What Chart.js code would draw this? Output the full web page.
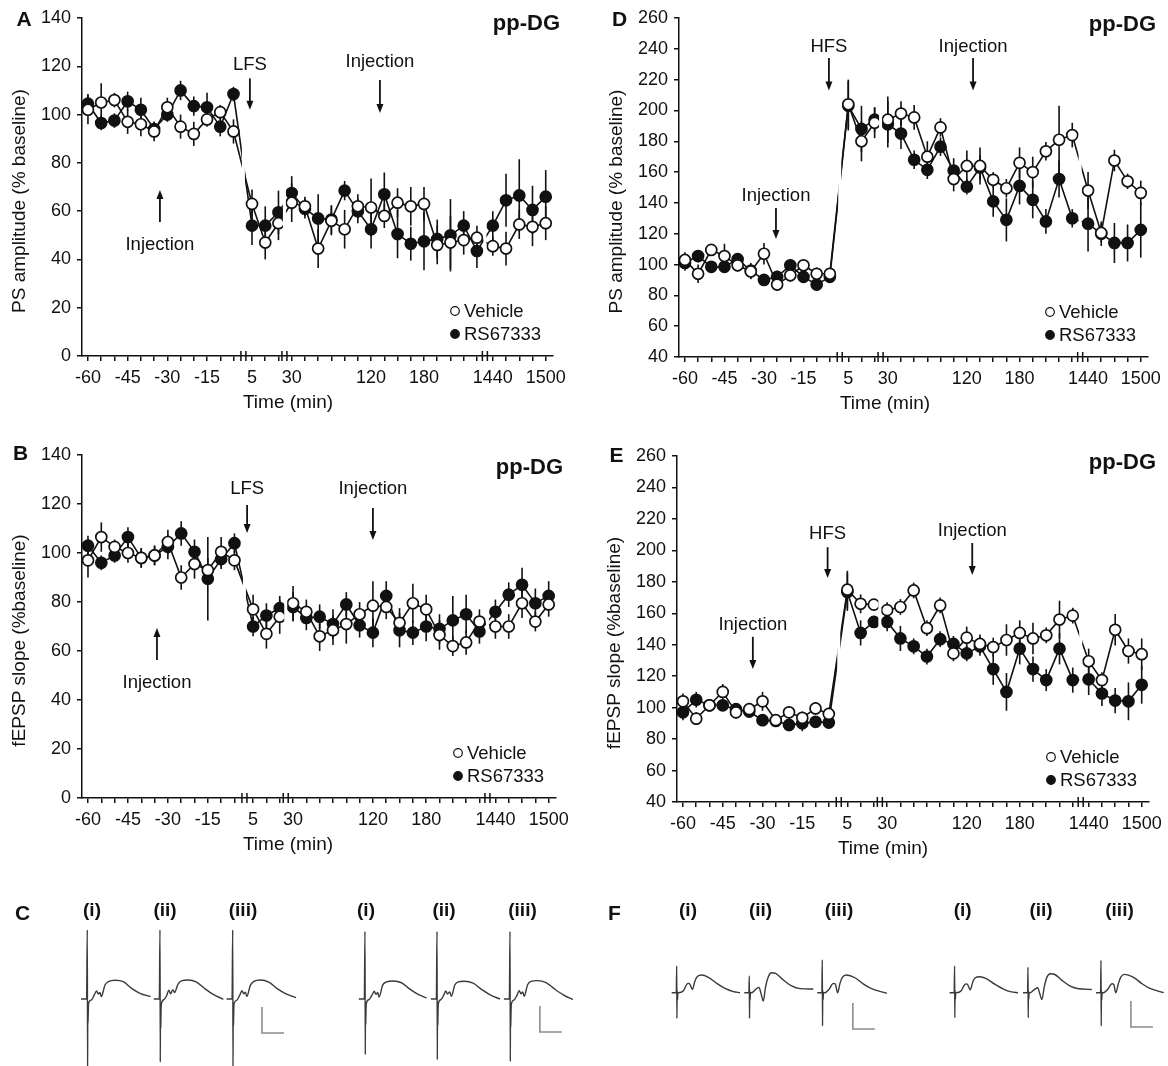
<!DOCTYPE html>
<html>
<head>
<meta charset="utf-8">
<title>pp-DG LTD / LTP with RS67333</title>
<script src="https://cdn.jsdelivr.net/npm/chart.js@4.4.1/dist/chart.umd.min.js"></script>
<style>
  body { margin: 0; background: #fff; }
  #fig { position: relative; width: 1168px; height: 1066px; overflow: hidden; background: #fff; }
  #fig canvas { position: absolute; }
</style>
</head>
<body>
<div id="fig">
  <canvas id="panelA" width="584" height="430" style="left:0;top:0"></canvas>
  <canvas id="panelB" width="584" height="430" style="left:0;top:437px"></canvas>
  <canvas id="panelD" width="584" height="430" style="left:584px;top:0"></canvas>
  <canvas id="panelE" width="584" height="430" style="left:584px;top:437px"></canvas>
  <canvas id="panelC" width="584" height="196" style="left:0;top:870px"></canvas>
  <canvas id="panelF" width="584" height="196" style="left:584px;top:870px"></canvas>
</div>
<script>
// recording times (min): baseline, after stimulation, 30-240 min, next day
const times = [-60, -55, -50, -45, -40, -35, -30, -25, -20, -15, -10, -5,
  5, 10, 15,
  30, 45, 60, 75, 90, 105, 120, 135, 150, 165, 180, 195, 210, 225, 240,
  1440, 1455, 1470, 1485, 1500];
const labeledTimes = [-60, -45, -30, -15, 5, 30, 120, 180, 1440, 1500];

// A: PS amplitude after LFS
const psLfsVehicle = [102, 105, 106, 97, 96, 93, 103, 95, 92, 98, 101, 93,
  63, 47, 55,
  63.5, 62, 44.5, 56, 52.5, 62, 61.5, 58, 63.5, 62, 63, 46, 47, 48, 49,
  45.5, 44.5, 54.5, 53.5, 55];
const psLfsVehicleErr = [6, 8, 3, 5, 5, 4, 4, 5, 5, 3, 3, 5,
  6, 7, 7,
  8, 4, 8, 6, 8, 5, 12, 5, 6, 8, 7, 8, 11, 6, 5,
  4, 7, 6, 8, 7];
const psLfsRs = [104.5, 96.5, 97.5, 105.5, 102, 94, 100, 110, 103.5, 103, 95, 108.5,
  54, 54, 59.5,
  67.5, 61, 57, 56.5, 68.5, 60, 52.5, 67, 50.5, 46.5, 47.5, 48.5, 50, 54, 43.5,
  54, 64.5, 66.5, 60.5, 66];
const psLfsRsErr = [4, 3, 3, 4, 5, 3, 3, 4, 4, 6, 4, 3,
  8, 8, 9,
  7, 4, 10, 6, 4, 5, 8, 9, 10, 7, 12, 8, 15, 6, 7,
  6, 11, 15, 10, 11];

// B: fEPSP slope after LFS
const slopeLfsVehicle = [97, 106.5, 102.5, 100, 98, 99, 104.5, 90, 95.5, 93, 100.5, 97,
  77, 67, 74,
  79.5, 76, 66, 68.5, 71, 75, 78.5, 78, 71.5, 79.5, 77, 66.5, 62, 63.5, 72,
  70, 70, 79.5, 72, 79];
const slopeLfsVehicleErr = [7, 6, 3, 4, 4, 4, 5, 5, 6, 5, 6, 4,
  6, 6, 7,
  7, 5, 6, 6, 8, 5, 10, 5, 6, 8, 6, 6, 4, 5, 5,
  5, 5, 6, 4, 5];
const slopeLfsRs = [103, 96, 99, 106.5, 98, 99, 102.5, 108, 100.5, 89.5, 97.5, 104,
  70, 74.5, 77.5,
  78, 73.5, 74, 71, 79, 70.5, 67.5, 82.5, 68.5, 67.5, 70, 69, 72.5, 75, 68,
  76, 83, 87, 79.5, 82.5];
const slopeLfsRsErr = [4, 3, 3, 4, 4, 4, 5, 5, 5, 17, 4, 4,
  4, 5, 5,
  6, 5, 5, 6, 5, 5, 6, 6, 7, 5, 6, 6, 10, 8, 5,
  5, 5, 7, 6, 6];

// D: PS amplitude after HFS
const psHfsVehicle = [103, 94, 109.5, 105.5, 99.5, 95.5, 107, 87, 93, 99.5, 94, 94,
  204, 180, 192,
  194, 198, 195.5, 170, 189, 155.5, 164, 164, 155, 149.5, 166, 160, 173.5, 181, 184,
  148, 120.5, 167.5, 154, 146.5];
const psHfsVehicleErr = [5, 6, 3, 8, 4, 5, 7, 4, 4, 4, 4, 3,
  16, 13, 10,
  15, 8, 8, 10, 6, 8, 10, 12, 5, 6, 10, 10, 6, 22, 8,
  12, 6, 7, 5, 8];
const psHfsRs = [101, 105.5, 98.5, 98.5, 103.5, 96, 90, 92, 99.5, 92, 87, 92,
  203, 188, 194,
  191, 185, 168, 161.5, 176.5, 161, 150.5, 163, 141, 129, 151, 142, 128, 155.5, 130,
  126.5, 120, 114, 114, 122.5];
const psHfsRsErr = [5, 4, 3, 3, 4, 5, 3, 4, 4, 4, 4, 3,
  16, 15, 8,
  15, 10, 6, 6, 6, 8, 5, 8, 10, 14, 12, 12, 8, 12, 6,
  18, 8, 13, 12, 18];

// E: fEPSP slope after HFS
const slopeHfsVehicle = [104, 93, 101.5, 110, 97, 99, 104, 92, 97, 93.5, 99.5, 96,
  175, 166, 165.5,
  162, 164, 174.5, 150.5, 165, 134.5, 144.5, 140.5, 138.5, 143, 147.5, 144, 146, 156, 158.5,
  129.5, 117.5, 149.5, 136, 134];
const slopeHfsVehicleErr = [5, 4, 3, 5, 4, 4, 6, 3, 4, 4, 4, 4,
  12, 6, 3,
  5, 5, 5, 5, 5, 5, 7, 6, 6, 10, 8, 10, 5, 12, 5,
  8, 5, 10, 8, 10];
const slopeHfsRs = [97, 105, 101.5, 101.5, 99, 97.5, 92, 91.5, 89, 90, 91, 90.5,
  173.5, 147.5, 154.5,
  154.5, 144, 139, 132.5, 143.5, 140.5, 134.5, 139, 124.5, 110, 137.5, 124.5, 117.5, 137.5, 117.5,
  118, 109, 104.5, 104, 114.5];
const slopeHfsRsErr = [5, 5, 3, 3, 4, 4, 3, 3, 4, 5, 3, 4,
  12, 8, 3,
  6, 8, 5, 5, 5, 5, 5, 6, 10, 12, 10, 8, 7, 10, 8,
  10, 8, 8, 12, 12];

// sample field potentials [ms, mV], stimulus at 0 ms
const traceC1 = [[-1.43, 0], [-0.16, 0], [0, 5.31], [0.07, -5.6], [0.1, -1.2], [0.13, -1.9], [0.16, -1.75], [0.3, -0.31], [0.91, -0.08], [1.59, 0.31], [2.11, 0.62], [2.5, 0.38], [2.89, 0.5], [3.18, 0.18], [4.02, 1.08], [4.77, 1.33], [6.3, 1.44], [8.18, 1.33], [10.07, 0.82], [11.98, 0.44], [14.39, 0.18]];
const traceC2 = [[-1.4, 0], [-0.15, 0], [0, 5.31], [0.07, -4.85], [0.1, -1.4], [0.13, -2.3], [0.16, -2.2], [0.3, -0.4], [0.9, -0.05], [1.5, 0.25], [2.0, 0.68], [2.4, 0.4], [2.9, 0.72], [3.3, 0.5], [4.1, 1.15], [4.9, 1.4], [6.4, 1.46], [8.3, 1.3], [10.2, 0.8], [12.1, 0.35], [14.4, -0.02]];
const traceC3 = [[-1.4, 0], [-0.15, 0], [0, 5.31], [0.07, -5.6], [0.1, -1.3], [0.13, -2.1], [0.16, -2.0], [0.3, -0.35], [0.9, -0.1], [1.6, 0.3], [2.1, 0.64], [2.5, 0.4], [2.9, 0.52], [3.2, 0.2], [4.0, 1.05], [4.8, 1.35], [6.3, 1.46], [8.2, 1.3], [10.1, 0.8], [12.0, 0.42], [14.4, 0.1]];
const traceC4 = [[-1.4, 0], [-0.15, 0], [0, 5.2], [0.07, -4.28], [0.1, -1.2], [0.13, -2.0], [0.16, -1.9], [0.3, -0.35], [0.9, -0.05], [1.6, 0.3], [2.1, 0.6], [2.5, 0.36], [2.9, 0.5], [3.2, 0.15], [4.0, 1.05], [4.8, 1.3], [6.4, 1.38], [8.3, 1.25], [10.2, 0.76], [12.1, 0.35], [14.0, 0.08]];
const traceC5 = [[-1.4, 0], [-0.15, 0], [0, 5.2], [0.07, -4.67], [0.1, -1.3], [0.13, -2.1], [0.16, -2.0], [0.3, -0.35], [0.9, -0.05], [1.5, 0.28], [2.0, 0.62], [2.4, 0.38], [2.9, 0.55], [3.25, 0.2], [4.05, 1.08], [4.8, 1.32], [6.2, 1.36], [8.2, 1.22], [10.2, 0.72], [12.2, 0.3], [14.3, 0]];
const traceC6 = [[-1.4, 0], [-0.15, 0], [0, 5.2], [0.07, -4.8], [0.1, -1.4], [0.13, -2.2], [0.16, -2.1], [0.3, -0.4], [0.9, -0.08], [1.6, 0.3], [2.1, 0.64], [2.5, 0.4], [2.9, 0.55], [3.2, 0.2], [4.0, 1.1], [4.8, 1.36], [6.2, 1.41], [8.2, 1.26], [10.2, 0.75], [12.2, 0.3], [14.3, -0.05]];
const traceF1 = [[-1.14, 0], [-0.1, 0], [0, 2.05], [0.05, -1.98], [0.1, 0.2], [0.18, -0.56], [0.25, 0], [0.39, 0], [1.52, 0.15], [2.27, 0.64], [2.66, 0.72], [3.02, 0.64], [3.57, 0.25], [4.16, 0.92], [4.7, 1.25], [5.68, 1.36], [7.2, 1.18], [9.09, 0.72], [10.98, 0.33], [12.89, 0.08], [14.39, 0]];
const traceF2 = [[-1.14, 0], [-0.1, 0], [0, 1.28], [0.05, -1.98], [0.1, 0.2], [0.18, -0.56], [0.25, 0], [0.52, 0], [1.52, 0.28], [2.2, 0.41], [2.66, -0.05], [3.18, -0.64], [3.7, 0.46], [4.32, 1.23], [5.07, 1.54], [5.98, 1.48], [7.73, 0.98], [9.61, 0.52], [11.52, 0.31], [14.55, 0.28]];
const traceF3 = [[-1.14, 0], [-0.1, 0], [0, 2.52], [0.05, -2.56], [0.1, 0.2], [0.18, -0.56], [0.25, 0], [0.61, 0], [1.52, 0.25], [2.5, 0.72], [2.95, 0.67], [3.48, 0], [4.02, 0.72], [4.55, 1.18], [5.52, 1.36], [7.43, 1.15], [9.2, 0.7], [11.05, 0.34], [14.7, -0.05]];
const traceF4 = [[-1.14, 0], [-0.1, 0], [0, 2.05], [0.05, -1.92], [0.1, 0.2], [0.18, -0.5], [0.25, 0], [0.4, 0], [1.5, 0.15], [2.25, 0.6], [2.65, 0.68], [3.0, 0.6], [3.55, 0.22], [4.15, 0.85], [4.7, 1.15], [5.7, 1.23], [7.2, 1.08], [9.1, 0.66], [11.0, 0.3], [12.9, 0.06], [14.4, 0]];
const traceF5 = [[-1.14, 0], [-0.1, 0], [0, 1.97], [0.05, -1.92], [0.1, 0.2], [0.18, -0.5], [0.25, 0], [0.5, 0], [1.5, 0.26], [2.2, 0.38], [2.65, -0.05], [3.15, -0.52], [3.7, 0.45], [4.3, 1.2], [5.1, 1.46], [6.0, 1.42], [7.7, 0.95], [9.6, 0.5], [11.5, 0.3], [14.5, 0.25]];
const traceF6 = [[-1.14, 0], [-0.1, 0], [0, 2.49], [0.05, -2.56], [0.1, 0.2], [0.18, -0.56], [0.25, 0], [0.6, 0], [1.5, 0.25], [2.5, 0.69], [2.9, 0.64], [3.36, 0], [3.95, 0.7], [4.5, 1.2], [5.4, 1.41], [7.3, 1.2], [9.2, 0.72], [11.0, 0.35], [14.25, 0]];
const scaleBar = { mV: 2, ms: 5 };

const INK = '#111';
const FONT = "'Liberation Sans', Arial, Helvetica, sans-serif";
Chart.defaults.font.family = FONT;
Chart.defaults.font.size = 18;
Chart.defaults.color = INK;

// the time axis is broken into four stretches; each point gets one slot
const axisSegments = [
  { from: -60, step: 5, at: 0 },
  { from: 5, step: 5, at: 12.4 },
  { from: 30, step: 15, at: 15.4 },
  { from: 1440, step: 15, at: 30.6 },
];
const axisBreaks = [11.75, 14.85, 30.0];
const slotMin = -0.45, slotMax = 35.15;

function slotOf(t) {
  let seg = axisSegments[0];
  for (const s of axisSegments) if (t >= s.from) seg = s;
  return seg.at + (t - seg.from) / seg.step;
}

// SEM bars, drawn under the lines and markers
const errorBars = {
  id: 'errorBars',
  beforeDatasetsDraw(chart) {
    const ctx = chart.ctx, y = chart.scales.y;
    ctx.save();
    ctx.strokeStyle = INK;
    ctx.lineWidth = 1.6;
    chart.data.datasets.forEach((ds, i) => {
      if (!ds.errors) return;
      chart.getDatasetMeta(i).data.forEach((pt, j) => {
        const v = ds.data[j].y, e = ds.errors[j];
        ctx.beginPath();
        ctx.moveTo(pt.x, y.getPixelForValue(v + e));
        ctx.lineTo(pt.x, y.getPixelForValue(v - e));
        ctx.stroke();
      });
    });
    ctx.restore();
  }
};

// gaps in the lines and the // marks on the axis at each break
const axisBreakMarks = {
  id: 'axisBreakMarks',
  afterDatasetsDraw(chart) {
    const { ctx, chartArea: a, scales: { x } } = chart;
    ctx.save();
    ctx.fillStyle = '#fff';
    axisBreaks.forEach(b => {
      const px = x.getPixelForValue(b);
      ctx.fillRect(px - 1.5, a.top, 3, a.bottom - a.top - 1);
    });
    ctx.restore();
  },
  afterDraw(chart) {
    const { ctx, chartArea: a, scales: { x } } = chart;
    ctx.save();
    ctx.strokeStyle = INK;
    ctx.lineWidth = 1.5;
    axisBreaks.forEach(b => {
      const px = x.getPixelForValue(b);
      [-2.5, 2.5].forEach(d => {
        ctx.beginPath();
        ctx.moveTo(px + d, a.bottom - 5);
        ctx.lineTo(px + d, a.bottom + 5);
        ctx.stroke();
      });
    });
    ctx.restore();
  }
};

function arrow(ctx, x, y1, y2) {
  const dir = y2 > y1 ? 1 : -1;
  ctx.lineWidth = 1.8;
  ctx.beginPath();
  ctx.moveTo(x, y1);
  ctx.lineTo(x, y2 - dir * 6);
  ctx.stroke();
  ctx.beginPath();
  ctx.moveTo(x, y2);
  ctx.lineTo(x - 3.5, y2 - dir * 9);
  ctx.lineTo(x + 3.5, y2 - dir * 9);
  ctx.closePath();
  ctx.fill();
}

// panel letter, region tag, axis titles, stimulation/injection arrows, key
function decorFor(p) {
  return {
    id: 'decor',
    afterDraw(chart) {
      const { ctx, chartArea: a, scales: { x, y } } = chart;
      ctx.save();
      ctx.fillStyle = INK;
      ctx.strokeStyle = INK;
      ctx.textBaseline = 'middle';

      ctx.font = `bold 21px ${FONT}`;
      ctx.textAlign = 'center';
      ctx.fillText(p.letter, p.letterAt[0], p.letterAt[1]);

      ctx.font = `bold 22px ${FONT}`;
      ctx.textAlign = 'right';
      ctx.fillText('pp-DG', p.tagAt[0], p.tagAt[1]);

      ctx.font = `19px ${FONT}`;
      ctx.textAlign = 'center';
      ctx.save();
      ctx.translate(a.left - 62, (a.top + a.bottom) / 2 + 14);
      ctx.rotate(-Math.PI / 2);
      ctx.fillText(p.yTitle, 0, 0);
      ctx.restore();
      ctx.fillText('Time (min)', a.left + 206, a.bottom + 47);

      ctx.font = `18.5px ${FONT}`;
      p.marks.forEach(m => {
        const px = x.getPixelForValue(m.at);
        ctx.fillText(m.text, px, y.getPixelForValue(m.textY));
        arrow(ctx, px, y.getPixelForValue(m.from), y.getPixelForValue(m.to));
      });

      const kx = a.right - 98;
      const rows = [
        { label: 'Vehicle', fill: '#fff', dy: 45 },
        { label: 'RS67333', fill: INK, dy: 22 },
      ];
      ctx.textAlign = 'left';
      rows.forEach(r => {
        const ky = a.bottom - r.dy;
        ctx.beginPath();
        ctx.arc(kx, ky, 4.3, 0, Math.PI * 2);
        ctx.fillStyle = r.fill;
        ctx.fill();
        ctx.lineWidth = 1.2;
        ctx.stroke();
        ctx.fillStyle = INK;
        ctx.fillText(r.label, kx + 9, ky + 1);
      });
      ctx.restore();
    }
  };
}

const panels = [
  { id: 'panelA', letter: 'A', letterAt: [24, 20], tagAt: [560, 24],
    yTitle: 'PS amplitude (% baseline)', yMin: 0, yMax: 140,
    pad: { left: 0, top: 18, right: 31, bottom: 0 }, yWidth: 82, xHeight: 74,
    vehicle: psLfsVehicle, vehicleErr: psLfsVehicleErr, rs: psLfsRs, rsErr: psLfsRsErr,
    marks: [
      { text: 'LFS', at: 12.24, textY: 120.5, from: 115, to: 102 },
      { text: 'Injection', at: 22.07, textY: 121.8, from: 114.3, to: 100.7 },
      { text: 'Injection', at: 5.44, textY: 46, from: 55.5, to: 68.8 },
    ] },
  { id: 'panelB', letter: 'B', letterAt: [20.5, 17.5], tagAt: [563, 31],
    yTitle: 'fEPSP slope (%baseline)', yMin: 0, yMax: 140,
    pad: { left: 0, top: 18, right: 28, bottom: 0 }, yWidth: 82, xHeight: 69,
    vehicle: slopeLfsVehicle, vehicleErr: slopeLfsVehicleErr, rs: slopeLfsRs, rsErr: slopeLfsRsErr,
    marks: [
      { text: 'LFS', at: 11.95, textY: 126, from: 119.6, to: 108.2 },
      { text: 'Injection', at: 21.4, textY: 126, from: 118.4, to: 105.3 },
      { text: 'Injection', at: 5.18, textY: 47, from: 56.3, to: 69.4 },
    ] },
  { id: 'panelD', letter: 'D', letterAt: [35.5, 20], tagAt: [572, 25],
    yTitle: 'PS amplitude (% baseline)', yMin: 40, yMax: 260,
    pad: { left: 0, top: 18, right: 20, bottom: 0 }, yWidth: 95, xHeight: 73,
    vehicle: psHfsVehicle, vehicleErr: psHfsVehicleErr, rs: psHfsRs, rsErr: psHfsRsErr,
    marks: [
      { text: 'HFS', at: 10.93, textY: 241.2, from: 234, to: 213 },
      { text: 'Injection', at: 6.91, textY: 144.5, from: 136.7, to: 116.6 },
      { text: 'Injection', at: 21.87, textY: 241, from: 234, to: 213 },
    ] },
  { id: 'panelE', letter: 'E', letterAt: [32.5, 19.5], tagAt: [572, 26],
    yTitle: 'fEPSP slope (%baseline)', yMin: 40, yMax: 260,
    pad: { left: 0, top: 19, right: 18, bottom: 0 }, yWidth: 93, xHeight: 65,
    vehicle: slopeHfsVehicle, vehicleErr: slopeHfsVehicleErr, rs: slopeHfsRs, rsErr: slopeHfsRsErr,
    marks: [
      { text: 'HFS', at: 10.91, textY: 210.4, from: 202, to: 182.4 },
      { text: 'Injection', at: 5.27, textY: 152.6, from: 145, to: 124.6 },
      { text: 'Injection', at: 21.82, textY: 212.3, from: 204.7, to: 184.4 },
    ] },
];

const axisLine = { color: INK, width: 1.5 };
const tickMarks = { drawOnChartArea: false, drawTicks: true, tickLength: 5, color: INK, lineWidth: 1.5 };

function makePanel(p) {
  const xs = times.map(slotOf);
  const pts = vals => vals.map((v, i) => ({ x: xs[i], y: v }));
  const series = (label, vals, errs, fill) => ({
    label, data: pts(vals), errors: errs,
    borderColor: INK, borderWidth: 1.6, tension: 0,
    pointRadius: 5.5, pointBorderWidth: 1.7,
    pointBackgroundColor: fill, pointBorderColor: INK,
  });
  new Chart(document.getElementById(p.id), {
    type: 'line',
    data: { datasets: [
      series('Vehicle', p.vehicle, p.vehicleErr, '#fff'),
      series('RS67333', p.rs, p.rsErr, INK),
    ] },
    options: {
      responsive: false, animation: false, devicePixelRatio: 1,
      layout: { padding: p.pad },
      plugins: { legend: { display: false }, tooltip: { enabled: false } },
      scales: {
        x: {
          type: 'linear', min: slotMin, max: slotMax,
          afterBuildTicks: s => { s.ticks = xs.map(v => ({ value: v })); },
          afterFit: s => { s.height = p.xHeight; },
          ticks: {
            autoSkip: false, maxRotation: 0, minRotation: 0, padding: 6,
            callback: (v, i) => labeledTimes.includes(times[i]) ? String(times[i]) : ''
          },
          grid: tickMarks, border: axisLine
        },
        y: {
          min: p.yMin, max: p.yMax,
          afterFit: s => { s.width = p.yWidth; },
          ticks: { stepSize: 20, padding: 6 },
          grid: tickMarks, border: axisLine
        }
      }
    },
    plugins: [errorBars, axisBreakMarks, decorFor(p)]
  });
}
panels.forEach(makePanel);

// representative traces: (i) baseline, (ii) after stimulation, (iii) next day
const PX_PER_MS = 4.4, PX_PER_MV = 13;
const tracePanels = [
  { id: 'panelC', letter: 'C', letterAt: [22.5, 44], baseline: 129,
    traces: [traceC1, traceC2, traceC3, traceC4, traceC5, traceC6],
    offsets: [19.84, 36.36, 52.89, 82.95, 99.32, 115.91],
    labelsAt: [92, 165, 243, 366, 444, 522.5],
    bars: [[59.55, -2.62], [122.7, -2.54]] },
  { id: 'panelF', letter: 'F', letterAt: [30.5, 44], baseline: 122.7,
    traces: [traceF1, traceF2, traceF3, traceF4, traceF5, traceF6],
    offsets: [21.07, 37.57, 54.16, 84.23, 100.91, 117.5],
    labelsAt: [104, 176.5, 255, 378.7, 457, 535.5],
    bars: [[61.1, -2.79], [124.3, -2.64]] },
];
const romans = ['(i)', '(ii)', '(iii)', '(i)', '(ii)', '(iii)'];

function makeTraces(t) {
  const canvas = document.getElementById(t.id);
  const datasets = t.traces.map((tr, k) => ({
    data: tr.map(([ms, mv]) => ({ x: ms + t.offsets[k], y: mv })),
    showLine: true, pointRadius: 0, borderColor: '#3a3a3a', borderWidth: 1.4,
    cubicInterpolationMode: 'monotone',
  }));
  t.bars.forEach(([bx, by]) => datasets.push({
    data: [{ x: bx, y: by + scaleBar.mV }, { x: bx, y: by }, { x: bx + scaleBar.ms, y: by }],
    showLine: true, pointRadius: 0, borderColor: '#8c8c8c', borderWidth: 1.6, tension: 0,
  }));
  new Chart(canvas, {
    type: 'scatter',
    data: { datasets },
    options: {
      responsive: false, animation: false, devicePixelRatio: 1,
      plugins: { legend: { display: false }, tooltip: { enabled: false } },
      scales: {
        x: { display: false, min: 0, max: canvas.width / PX_PER_MS },
        y: { display: false, min: -(canvas.height - t.baseline) / PX_PER_MV, max: t.baseline / PX_PER_MV },
      }
    },
    plugins: [{
      id: 'traceLabels',
      afterDraw(chart) {
        const ctx = chart.ctx;
        ctx.save();
        ctx.fillStyle = INK;
        ctx.textAlign = 'center';
        ctx.textBaseline = 'middle';
        ctx.font = `bold 21px ${FONT}`;
        ctx.fillText(t.letter, t.letterAt[0], t.letterAt[1]);
        ctx.font = `bold 19px ${FONT}`;
        romans.forEach((r, k) => ctx.fillText(r, t.labelsAt[k], 41));
        ctx.restore();
      }
    }]
  });
}
tracePanels.forEach(makeTraces);
</script>
</body>
</html>
